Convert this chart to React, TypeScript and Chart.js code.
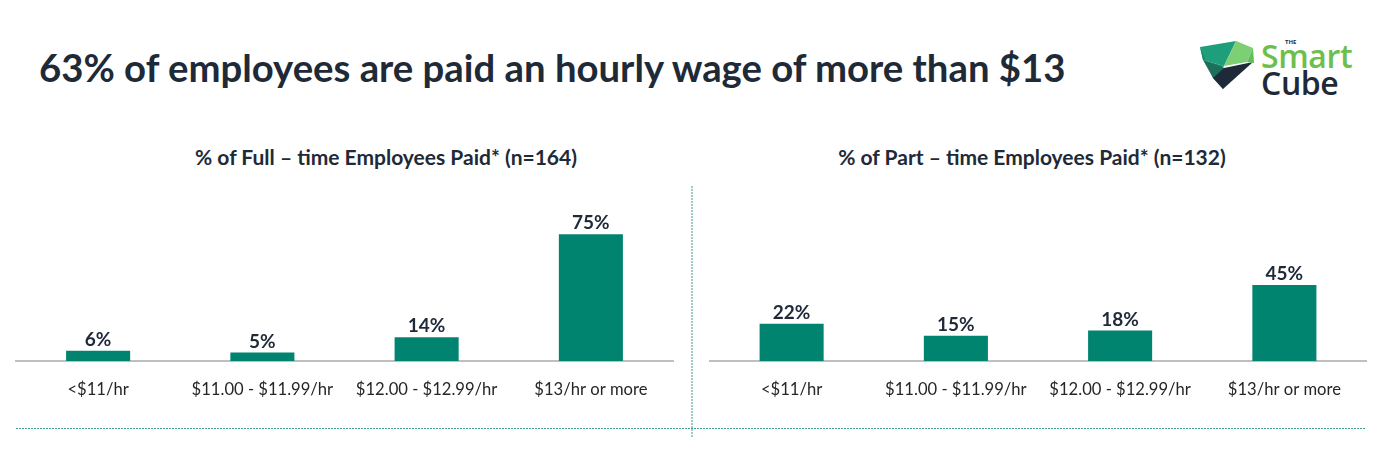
import React, { useEffect, useRef } from "react";
import { Chart, registerables } from "chart.js";

Chart.register(...registerables);

const categories = ["<$11/hr", "$11.00 - $11.99/hr", "$12.00 - $12.99/hr", "$13/hr or more"];
const fullTimeValues = [6, 5, 14, 75];
const partTimeValues = [22, 15, 18, 45];
const fullTimeTitle = "% of Full \u2013 time Employees Paid* (n=164)";
const partTimeTitle = "% of Part \u2013 time Employees Paid* (n=132)";
const mainTitle = "63% of employees are paid an hourly wage of more than $13";

const BAR = "#00846f";
const TEXT = "#1e2a38";

const labelPlugin = {
  id: "barLabels",
  afterDatasetsDraw(chart: any) {
    const ctx = chart.ctx;
    const meta = chart.getDatasetMeta(0);
    const data = chart.data.datasets[0].data as number[];
    ctx.save();
    ctx.font = "bold 19px Lato";
    ctx.fillStyle = TEXT;
    ctx.textAlign = "center";
    ctx.textBaseline = "alphabetic";
    meta.data.forEach((el: any, i: number) => {
      ctx.fillText(data[i] + "%", el.x, el.y - 5);
    });
    ctx.restore();
  },
};

function BarPanel({ values, padLeft, padRight, width }: { values: number[]; padLeft: number; padRight: number; width: number }) {
  const ref = useRef<HTMLCanvasElement>(null);
  useEffect(() => {
    const chart = new Chart(ref.current as HTMLCanvasElement, {
      type: "bar",
      data: {
        labels: categories,
        datasets: [
          {
            data: values,
            backgroundColor: BAR,
            borderWidth: 0,
            categoryPercentage: 1,
            barPercentage: 0.39,
          },
        ],
      },
      options: {
        animation: false,
        responsive: false,
        maintainAspectRatio: false,
        layout: { padding: { left: padLeft, right: padRight, top: 12, bottom: 19 } },
        plugins: { legend: { display: false }, tooltip: { enabled: false }, title: { display: false } },
        scales: {
          x: {
            offset: true,
            grid: { display: false },
            border: { display: true, color: "#bfbfbf", width: 2 },
            ticks: { color: "#262626", font: { family: "Lato", size: 16.6 }, padding: 11, maxRotation: 0, autoSkip: false },
            afterFit: (s: any) => {
              s.height = 40;
            },
          },
          y: { display: false, min: 0, max: 100 },
        },
      },
      plugins: [labelPlugin],
    });
    return () => chart.destroy();
  }, []);
  return <canvas ref={ref} width={width} height={240} style={{ width, height: 240, display: "block" }} />;
}

function Logo() {
  return (
    <svg width={180} height={70} viewBox="1195 35 180 70" style={{ position: "absolute", left: 1195, top: 35 }}>
      <polygon points="1200,47 1236,41 1224,66 1203,60" fill="#1f9e7c" />
      <polygon points="1236,41 1253,48 1247,62 1224,66" fill="#7ccf72" />
      <polygon points="1200,47 1203,60 1224,66 1213,78" fill="#168a6c" />
      <polygon points="1203,60 1213,78 1223,89 1230,70" fill="#1d6e5a" />
      <polygon points="1224,68 1253,62 1223,89 1213,78" fill="#1f2a38" />
      <polygon points="1247,62 1253,48 1254,63" fill="#5fbf5a" />
      <text x={1285} y={44} fontFamily="Open Sans" fontWeight={700} fontSize={6} fill="#1f2a38">THE</text>
      <text x={1261} y={68} fontFamily="Open Sans" fontWeight={600} fontSize={32} fill="#6cc04a" letterSpacing={-0.4}>Smart</text>
      <text x={1261} y={95} fontFamily="Open Sans" fontWeight={600} fontSize={32} fill="#1f2a38" letterSpacing={-0.4}>Cube</text>
    </svg>
  );
}

export default function App() {
  return (
    <div style={{ position: "fixed", left: 0, top: 0, width: 1386, height: 454, background: "#fff", overflow: "hidden", fontFamily: "Lato" }}>
      <div style={{ position: "absolute", left: 39, top: 44, fontSize: 38.3, fontWeight: 700, color: TEXT, whiteSpace: "nowrap", lineHeight: "46px" }}>
        {mainTitle}
      </div>
      <Logo />
      <div style={{ position: "absolute", left: 186, width: 400, top: 144, textAlign: "center", fontSize: 21, fontWeight: 700, color: TEXT, whiteSpace: "nowrap", lineHeight: "26px" }}>
        {fullTimeTitle}
      </div>
      <div style={{ position: "absolute", left: 832, width: 400, top: 144, textAlign: "center", fontSize: 21, fontWeight: 700, color: TEXT, whiteSpace: "nowrap", lineHeight: "26px" }}>
        {partTimeTitle}
      </div>
      <div style={{ position: "absolute", left: 0, top: 180 }}>
        <BarPanel values={fullTimeValues} padLeft={16} padRight={19} width={692} />
      </div>
      <div style={{ position: "absolute", left: 692, top: 180 }}>
        <BarPanel values={partTimeValues} padLeft={17.5} padRight={19.5} width={694} />
      </div>
      <svg width={1386} height={454} style={{ position: "absolute", left: 0, top: 0, pointerEvents: "none" }}>
        <line x1={692} y1={186} x2={692} y2={437} stroke="#3e9c90" strokeWidth={1} strokeDasharray="2,1" />
        <line x1={16} y1={428.5} x2={1365} y2={428.5} stroke="#3e9c90" strokeWidth={1} strokeDasharray="2,1" />
      </svg>
    </div>
  );
}
